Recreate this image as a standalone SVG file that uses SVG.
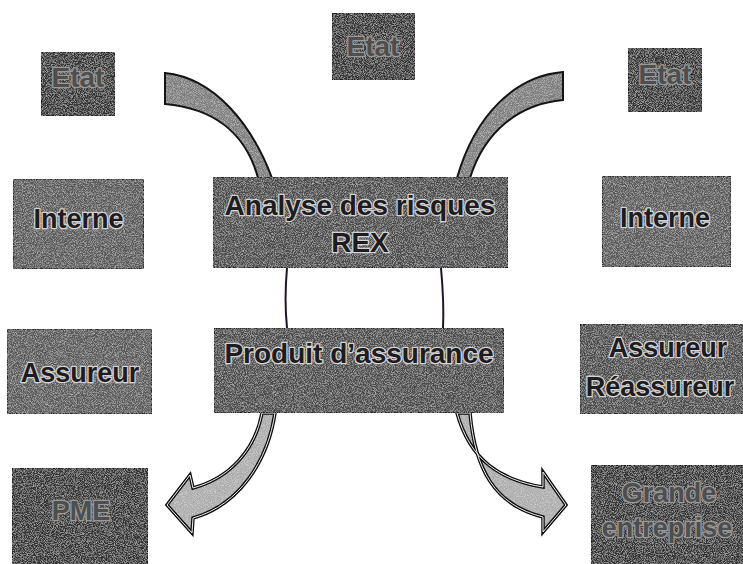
<svg xmlns="http://www.w3.org/2000/svg" width="743" height="564" viewBox="0 0 743 564">
  <defs>
    <filter id="grain" x="0" y="0" width="100%" height="100%">
      <feTurbulence type="fractalNoise" baseFrequency="1.1" numOctaves="2" seed="7" result="n"/>
      <feColorMatrix in="n" type="matrix" values="0 0 0 0 1  0 0 0 0 1  0 0 0 0 1  1.0 0 0 0 -0.42" result="w"/>
      <feComposite in="w" in2="SourceGraphic" operator="in" result="speck"/>
      <feMerge>
        <feMergeNode in="SourceGraphic"/>
        <feMergeNode in="speck"/>
      </feMerge>
    </filter>
    <path id="bandL" d="M165,73 C215,78 252,125 272,178 L258,178 C245,130 210,108 165,104 Z"/>
    <path id="bandR" d="M563,72 L563,100 C520,104 485,130 470,178 L457,178 C475,115 515,76 563,72 Z"/>
    <path id="arrL" d="M262,413 C255,450 230,478 193,488 L190,475 L167,505 L192,533 L193,518 C240,505 268,460 275,413 Z"/>
    <path id="arrR" d="M457,413 C470,460 500,480 543,487 L543,472 L566,505 L543,532 L543,517 C495,505 475,470 470,413 Z"/>
    <style>
      .box { stroke: #1c1a1e; stroke-width: 1.5; filter: url(#grain); }
      .dark { fill: #333333; }
      .mid { fill: #4a4a4a; }
      .light { fill: #585858; }
      .t { font-family: "Liberation Sans", Arial, sans-serif; font-weight: bold; font-size: 27px; text-anchor: middle; fill: #1e1c20; stroke: #d4d4d4; stroke-width: 2.5; paint-order: stroke; stroke-linejoin: round; }
      .td { font-family: "Liberation Sans", Arial, sans-serif; font-weight: bold; font-size: 27px; text-anchor: middle; fill: #4e4e4e; stroke: #9a9a9a; stroke-width: 2.5; paint-order: stroke; stroke-linejoin: round; }
      .big { font-size: 28px; }
      .bandfill { fill: #7c7c7c; filter: url(#grain); }
      .arrowfill { fill: #acacac; filter: url(#grain); }
      .outline { fill: none; stroke: #141414; stroke-width: 2; stroke-linejoin: miter; }
      .outline2 { fill: none; stroke: #101010; stroke-width: 3.5; stroke-linejoin: miter; }
      .inner { fill: none; stroke: #f0f0f0; stroke-width: 1; }
      .line { fill: none; stroke: #22142a; stroke-width: 2; }
    </style>
  </defs>
  <rect width="743" height="564" fill="#ffffff"/>

  <g id="connectors">
    <use href="#bandL" class="bandfill"/>
    <use href="#bandL" class="outline"/>
    <use href="#bandR" class="bandfill"/>
    <use href="#bandR" class="outline"/>
    <path class="line" d="M287,268 C285,290 285,308 287,328"/>
    <path class="line" d="M441,268 C443,290 444,308 443,328"/>
    <use href="#arrL" class="arrowfill"/>
    <use href="#arrL" class="outline2"/>
    <use href="#arrL" class="inner"/>
    <use href="#arrR" class="arrowfill"/>
    <use href="#arrR" class="outline2"/>
    <use href="#arrR" class="inner"/>
  </g>

  <g id="etat-top">
    <rect class="box dark" x="332" y="13" width="83" height="67"/>
    <text class="td big" x="373" y="56">Etat</text>
  </g>
  <g id="etat-left">
    <rect class="box dark" x="41" y="52" width="74" height="64"/>
    <text class="td big" x="78" y="87">Etat</text>
  </g>
  <g id="etat-right">
    <rect class="box dark" x="628" y="48" width="74" height="64"/>
    <text class="td big" x="665" y="84">Etat</text>
  </g>

  <g id="interne-left">
    <rect class="box light" x="13" y="179" width="131" height="90"/>
    <text class="t" x="78.5" y="228">Interne</text>
  </g>
  <g id="interne-right">
    <rect class="box light" x="602" y="176" width="129" height="91"/>
    <text class="t" x="665" y="227">Interne</text>
  </g>

  <g id="analyse">
    <rect class="box mid" x="213" y="177" width="295" height="91"/>
    <text class="t big" x="360" y="215">Analyse des risques</text>
    <text class="t big" x="360" y="252">REX</text>
  </g>

  <g id="produit">
    <rect class="box mid" x="214" y="328" width="290" height="85"/>
    <text class="t big" x="359" y="363">Produit d’assurance</text>
  </g>

  <g id="assureur-left">
    <rect class="box light" x="7" y="329" width="145" height="85"/>
    <text class="t" x="80" y="382">Assureur</text>
  </g>
  <g id="assureur-right">
    <rect class="box mid" x="580" y="324" width="170" height="90"/>
    <text class="t" x="668" y="357">Assureur</text>
    <text class="t" x="660" y="396">Réassureur</text>
  </g>

  <g id="pme">
    <rect class="box dark" x="12" y="468" width="136" height="100"/>
    <text class="td" x="81" y="520">PME</text>
  </g>
  <g id="grande-entreprise">
    <rect class="box dark" x="591" y="465" width="160" height="103"/>
    <text class="td" x="669" y="502">Grande</text>
    <text class="td" x="667" y="537">entreprise</text>
  </g>
</svg>
